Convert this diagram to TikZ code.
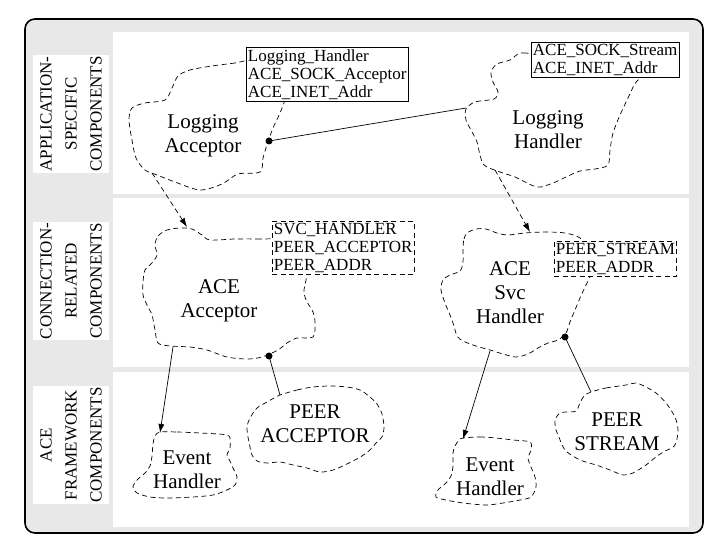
\documentclass[tikz,border=0pt]{standalone}
\usepackage{fontspec}
\setmainfont{Liberation Serif}
\usetikzlibrary{arrows.meta}
\definecolor{panelgray}{gray}{0.91}
\tikzset{
  cloudline/.style={draw, line width=0.7pt, dash pattern=on 5pt off 3.5pt},
  cloudtext/.style={align=center, font=\fontsize{21}{24}\selectfont, inner sep=0pt},
  classbox/.style={draw, fill=white, line width=0.8pt, align=left, anchor=north west,
    inner xsep=1.5pt, inner ysep=2pt, font=\fontsize{17}{18}\selectfont},
  parambox/.style={classbox, dash pattern=on 5pt off 3.5pt},
  rowlabel/.style={fill=white, rotate=90, minimum width=118pt, minimum height=76pt,
    inner sep=0pt, align=center, font=\fontsize{17}{25}\selectfont},
  link/.style={line width=0.7pt},
  tip/.style={-{Latex[length=9pt,width=6pt]}},
}
\begin{document}
\begin{tikzpicture}[x=1pt, y=-1pt]
  \useasboundingbox (0,0) rectangle (726,553);
  % frame and the three layers
  \draw[line width=1.6pt, fill=panelgray, rounded corners=10pt] (25,19) rectangle (703,533);
  \fill[white] (113,32) rectangle (689,194);
  \fill[white] (113,198) rectangle (689,367);
  \fill[white] (113,372) rectangle (689,527);
  \node[rowlabel] (appl) at (71,114) {APPLICATION-\\SPECIFIC\\COMPONENTS};
  \node[rowlabel] (conn) at (71,281) {CONNECTION-\\RELATED\\COMPONENTS};
  \node[rowlabel] (fram) at (71,445) {ACE\\FRAMEWORK\\COMPONENTS};

  % clouds
  \draw[cloudline] plot[smooth cycle] coordinates {(255,60) (235,63) (212,66) (190,70)
    (178,76) (172,88) (165,100) (145,103) (132,108) (129,120) (132,140) (136,158)
    (145,170) (157,175) (175,182) (200,190) (222,184) (238,174) (260,172) (263,158)
    (267,145) (273,128) (280,113) (285,100) (290,85) (280,70)};
  \draw[cloudline] plot[smooth cycle] coordinates {(545,56) (526,53) (518,54) (510,60)
    (497,64) (491,72) (493,82) (498,92) (494,99) (475,102) (466,109) (466,120)
    (471,130) (477,142) (480,155) (484,165) (497,171) (515,177) (537,187) (553,183)
    (566,177) (580,171) (595,169) (608,165) (610,150) (613,133) (620,115) (628,98)
    (634,85) (640,72) (600,60)};
  \draw[cloudline] plot[smooth cycle] coordinates {(290,240) (260,239) (235,239) (210,240)
    (202,235) (192,229) (180,228) (167,230) (158,236) (155,245) (157,255) (152,263)
    (145,270) (143,282) (143,295) (147,305) (152,315) (155,330) (158,343) (170,346)
    (190,347) (207,350) (227,357) (247,359) (262,357) (278,350) (287,343) (297,338)
    (313,337) (315,323) (313,312) (306,300) (304,290) (307,272) (300,255)};
  \draw[cloudline] plot[smooth cycle] coordinates {(463,248) (464,239) (467,233) (476,229)
    (486,229) (497,233) (508,235) (525,233) (545,232) (565,233) (580,238) (590,252)
    (590,275) (585,287) (580,298) (575,310) (570,322) (566,333) (558,340) (548,343)
    (538,348) (528,354) (516,357) (503,354) (490,350) (476,346) (463,341) (457,336)
    (454,326) (450,315) (445,303) (441,290) (443,280) (450,275) (460,271) (463,262)};
  \draw[cloudline] plot[smooth cycle] coordinates {(160,432) (177,432) (200,433) (227,435)
    (230,441) (230,448) (227,455) (230,461) (233,468) (237,477) (235,485) (227,490)
    (213,495) (193,497) (167,498) (150,497) (137,493) (133,487) (137,480) (145,473)
    (150,466) (152,456) (153,444) (155,436)};
  \draw[cloudline] plot[smooth cycle] coordinates {(280,395) (297,390) (313,387) (330,386)
    (347,387) (360,390) (370,397) (377,404) (382,414) (384,427) (382,437) (376,443)
    (371,449) (362,456) (349,463) (333,470) (320,472) (307,468) (293,465) (280,462)
    (267,463) (257,461) (252,455) (250,447) (248,437) (247,427) (250,418) (257,408)
    (267,402) (274,398)};
  \draw[cloudline] plot[smooth cycle] coordinates {(463,438) (480,437) (496,438) (513,440)
    (530,442) (531,450) (528,458) (531,467) (535,477) (536,487) (531,497) (520,500)
    (503,503) (486,505) (463,503) (446,500) (436,497) (438,490) (446,483) (451,476)
    (453,466) (453,453) (455,446) (459,440)};
  \draw[cloudline] plot[smooth cycle] coordinates {(591,392) (606,388) (626,385) (636,383)
    (646,387) (656,393) (666,403) (675,417) (678,430) (676,443) (672,448) (665,451)
    (656,457) (646,465) (633,473) (623,475) (610,470) (596,465) (580,460) (567,452)
    (562,445) (559,437) (556,430) (555,420) (560,413) (567,412) (576,411) (580,403)
    (584,396)};

  % cloud names
  \node[cloudtext] (logacc) at (203,136) {Logging\\Acceptor};
  \node[cloudtext] (loghnd) at (548,130) {Logging\\Handler};
  \node[cloudtext] (aceacc) at (219,301) {ACE\\Acceptor};
  \node[cloudtext] (acesvc) at (510,293) {ACE\\Svc\\Handler};
  \node[cloudtext] (evh1) at (187,470) {Event\\Handler};
  \node[cloudtext] (peeracc) at (315,424) {PEER\\ACCEPTOR};
  \node[cloudtext] (evh2) at (490,477) {Event\\Handler};
  \node[cloudtext] (peerstr) at (617,432) {PEER\\STREAM};

  % template parameters
  \node[classbox] (logaccbox) at (246,47) {Logging\_Handler\\ACE\_SOCK\_Acceptor\\ACE\_INET\_Addr};
  \node[classbox] (loghndbox) at (531,42) {ACE\_SOCK\_Stream\\ACE\_INET\_Addr};
  \node[parambox] (aceaccbox) at (272,221) {SVC\_HANDLER\\PEER\_ACCEPTOR\\PEER\_ADDR};
  \node[parambox] (acesvcbox) at (554,241) {PEER\_STREAM\\PEER\_ADDR};

  % connection points
  \coordinate (logacc-dot) at (269,141);
  \coordinate (loghnd-w) at (466,108);
  \coordinate (logacc-s) at (152,173);
  \coordinate (aceacc-n) at (187,227);
  \coordinate (loghnd-s) at (495,170);
  \coordinate (acesvc-n) at (530,232);
  \coordinate (aceacc-s) at (173,347);
  \coordinate (evh1-n) at (160,433);
  \coordinate (aceacc-dot) at (269,356);
  \coordinate (peeracc-n) at (280,395);
  \coordinate (acesvc-s) at (490,351);
  \coordinate (evh2-n) at (463,439);
  \coordinate (acesvc-dot) at (565,337);
  \coordinate (peerstr-n) at (591,392);

  \draw[link] (logacc-dot) -- (loghnd-w);
  \draw[link, tip, dash pattern=on 5pt off 3.5pt] (logacc-s) -- (aceacc-n);
  \draw[link, tip, dash pattern=on 5pt off 3.5pt] (loghnd-s) -- (acesvc-n);
  \draw[link, tip] (aceacc-s) -- (evh1-n);
  \draw[link] (aceacc-dot) -- (peeracc-n);
  \draw[link, tip] (acesvc-s) -- (evh2-n);
  \draw[link] (acesvc-dot) -- (peerstr-n);
  \foreach \p in {logacc-dot, aceacc-dot, acesvc-dot}
    \fill (\p) circle (3.5pt);
\end{tikzpicture}
\end{document}
